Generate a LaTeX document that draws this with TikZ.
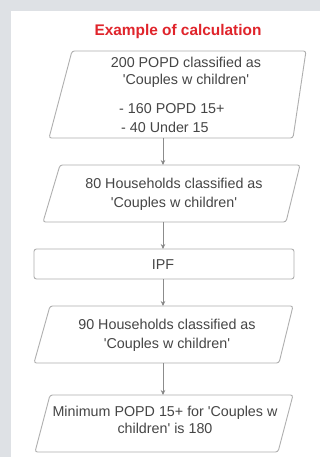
\documentclass[tikz,border=0pt]{standalone}
\usepackage{fontspec}
\setmainfont{Liberation Sans}[Ligatures=TeXOff]
\usetikzlibrary{arrows.meta}
\definecolor{bggray}{HTML}{DEE1E5}
\definecolor{edge}{HTML}{AFAFAF}
\definecolor{txt}{HTML}{454545}
\definecolor{titlered}{HTML}{E0242B}
\tikzset{
  shapeline/.style={draw=edge, line width=0.9pt, rounded corners=2.5pt, fill=white},
  boxtext/.style={text=txt, font=\fontsize{14.3}{17}\selectfont, align=center, inner sep=0pt},
  arr/.style={draw=edge!80!black, line width=0.7pt, -{Stealth[length=5pt,width=4.5pt,fill=txt]}},
}
\begin{document}
\begin{tikzpicture}[x=1pt,y=-1pt]
\useasboundingbox (0,0) rectangle (320,457);
\fill[bggray] (0,0) rectangle (320,457);
\fill[white] (11,11) rectangle (320,457);

\node[text=titlered, font=\bfseries\fontsize{15.4}{18}\selectfont, inner sep=0pt] (title) at (178,32) {Example of calculation};

% box 1
\draw[shapeline] (72,51) -- (306,51) -- (293,138) -- (49,138) -- cycle;
\node[boxtext] (b1a) at (186,72) {200 POPD classified as\\'Couples w children'};
\node[boxtext, align=left, anchor=west] (b1b) at (119,118) {- 160 POPD 15+\\[2pt]\hspace*{2pt}- 40 Under 15};

% box 2
\draw[shapeline] (60,165) -- (300,165) -- (286,222) -- (43,222) -- cycle;
\node[boxtext] (b2) at (174,194) {80 Households classified as\\[2pt]'Couples w children'};

% IPF
\draw[shapeline] (34,249) rectangle (294,279);
\node[boxtext] (ipf) at (163,265) {IPF};

% box 3
\draw[shapeline] (50,306) -- (293,306) -- (279,363) -- (34,363) -- cycle;
\node[boxtext] (b3) at (167,335) {90 Households classified as\\[2pt]'Couples w children'};

% box 4
\draw[shapeline] (50,395) -- (293,395) -- (278,452) -- (35,452) -- cycle;
\node[boxtext] (b4) at (165,420) {Minimum POPD 15+ for 'Couples w\\children' is 180};

\coordinate (a1s) at (163,138);
\coordinate (a1e) at (163,165);
\coordinate (a2s) at (163,222);
\coordinate (a2e) at (163,249);
\coordinate (a3s) at (163,279);
\coordinate (a3e) at (163,306);
\coordinate (a4s) at (163,363);
\coordinate (a4e) at (163,395);
\draw[arr] (a1s) -- (a1e);
\draw[arr] (a2s) -- (a2e);
\draw[arr] (a3s) -- (a3e);
\draw[arr] (a4s) -- (a4e);
\end{tikzpicture}
\end{document}
